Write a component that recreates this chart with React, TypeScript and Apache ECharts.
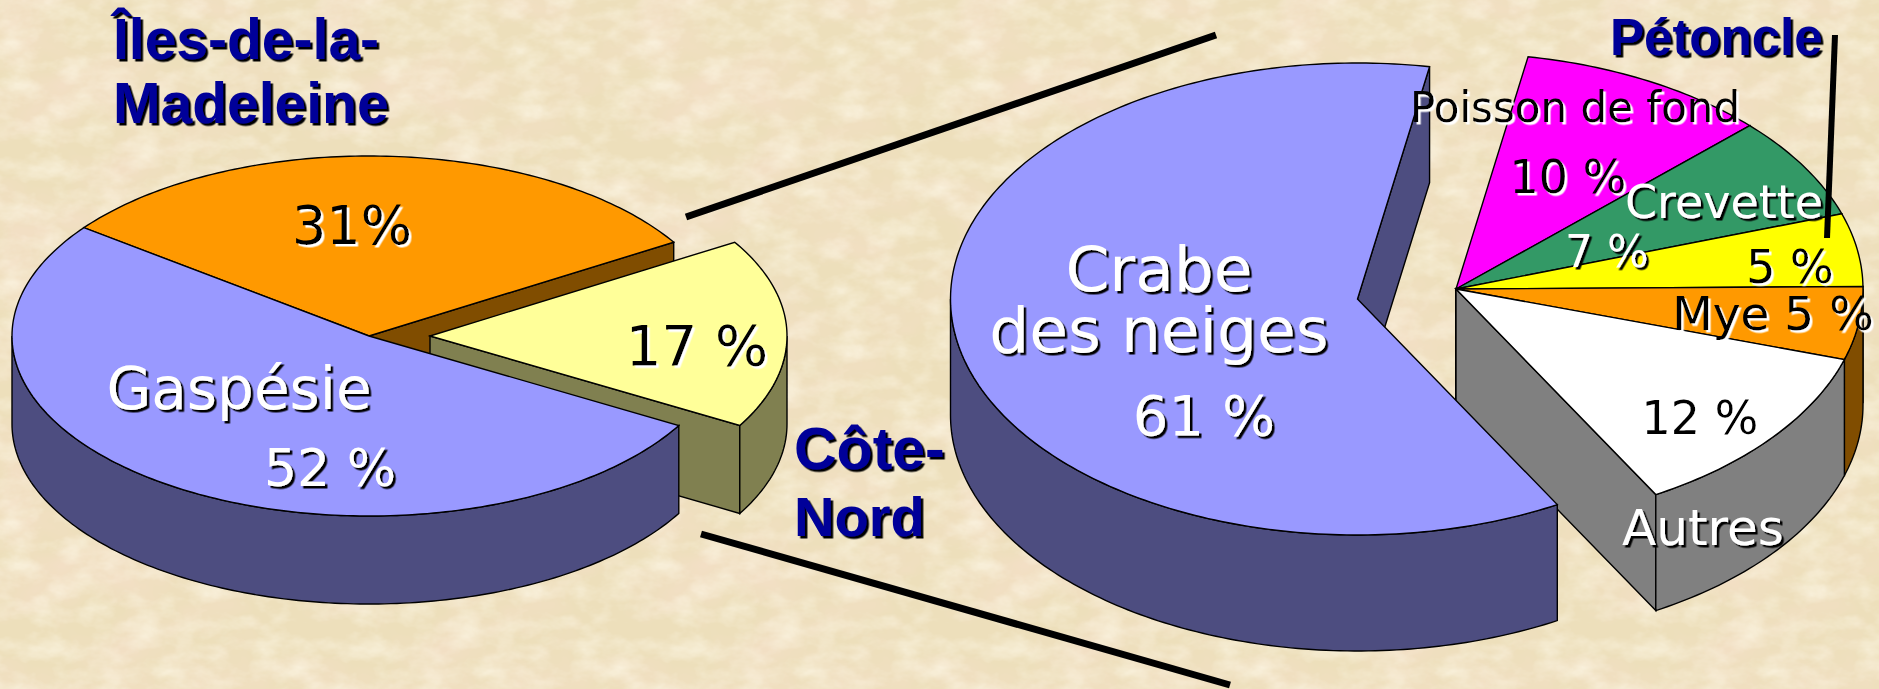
import React, { useEffect, useRef } from "react";
import * as echarts from "echarts";

// ---------- data ----------
const leftNames = ["Îles-de-la-Madeleine", "Côte-Nord", "Gaspésie"];
const leftValues = [31, 17, 52];
const leftTop = ["#FF9900", "#FFFF99", "#9999FF"];
const leftWall = ["#804D00", "#808050", "#4D4D80"];

const rightNames = ["Crabe des neiges", "Poisson de fond", "Crevette", "Pétoncle", "Mye", "Autres"];
const rightValues = [61, 10, 7, 5, 5, 12];
const rightTop = ["#9999FF", "#FF00FF", "#339966", "#FFFF00", "#FF9900", "#FFFFFF"];
const rightWall = ["#4D4D80", "#800080", "#1A4D33", "#808000", "#804D00", "#808080"];

type Label = { t: string; x: number; y: number; s: number; c: string; sh: string; bold?: boolean; a?: string; lh?: number };
const WHITE = "#FFFFFF", BLACK = "#000000", NAVY = "#000099";
const labels: Label[] = [
  { t: "Îles-de-la-", x: 113, y: 58, s: 57, c: NAVY, sh: BLACK, bold: true, a: "left" },
  { t: "Madeleine", x: 113, y: 122, s: 57, c: NAVY, sh: BLACK, bold: true, a: "left" },
  { t: "Côte-", x: 794, y: 469, s: 59, c: NAVY, sh: BLACK, bold: true, a: "left" },
  { t: "Nord", x: 794, y: 536, s: 56, c: NAVY, sh: BLACK, bold: true, a: "left" },
  { t: "Pétoncle", x: 1610, y: 55, s: 51, c: NAVY, sh: BLACK, bold: true, a: "left" },
  { t: "31%", x: 352, y: 244, s: 54, c: BLACK, sh: WHITE },
  { t: "17 %", x: 697, y: 365, s: 56, c: BLACK, sh: WHITE },
  { t: "Gaspésie", x: 239, y: 409, s: 58, c: WHITE, sh: BLACK },
  { t: "52 %", x: 330, y: 486, s: 52, c: WHITE, sh: BLACK },
  { t: "Crabe\ndes neiges", x: 1159, y: 351, s: 63, c: WHITE, sh: BLACK, lh: 61 },
  { t: "61 %", x: 1204, y: 435, s: 56, c: WHITE, sh: BLACK },
  { t: "Poisson de fond", x: 1575, y: 122, s: 42, c: BLACK, sh: WHITE },
  { t: "10 %", x: 1568, y: 193, s: 46, c: BLACK, sh: WHITE },
  { t: "Crevette", x: 1724, y: 218, s: 46, c: WHITE, sh: BLACK },
  { t: "7 %", x: 1607, y: 266, s: 44, c: WHITE, sh: BLACK },
  { t: "5 %", x: 1790, y: 283, s: 46, c: BLACK, sh: WHITE },
  { t: "Mye 5 %", x: 1773, y: 329, s: 47, c: BLACK, sh: WHITE },
  { t: "12 %", x: 1700, y: 434, s: 46, c: BLACK, sh: WHITE },
  { t: "Autres", x: 1703, y: 545, s: 50, c: WHITE, sh: BLACK },
];
const guideLines = [
  { x1: 686, y1: 217, x2: 1216, y2: 35, w: 7 },
  { x1: 701, y1: 534, x2: 1230, y2: 685, w: 7 },
  { x1: 1835, y1: 35, x2: 1827, y2: 238, w: 6 },
];

// ---------- layout ----------
const LEFT = { cx: 369, cy: 336, rx: 357, ry: 180, depth: 88, start: 217, explode: [[0, 0], [61, 0], [0, 0]] };
const RIGHT = {
  cx: 1456, cy: 289, rx: 407, ry: 236, depth: 116, start: 60.6,
  explode: [[-98.5, 10], [0, 0], [0, 0], [0, 0], [0, 0], [0, 0]],
};
const rightDrawOrder = [1, 2, 3, 4, 5, 0];
const leftDrawOrder = [0, 1, 2];

const TEXTURE =
  "data:image/svg+xml," +
  encodeURIComponent(
    `<svg xmlns='http://www.w3.org/2000/svg' width='321' height='240'>
<filter id='a' x='0' y='0' width='100%' height='100%'><feTurbulence type='fractalNoise' baseFrequency='0.012 0.016' numOctaves='4' seed='11' stitchTiles='stitch'/>
<feColorMatrix values='0 0 0 0 0.91  0 0 0 0 0.74  0 0 0 0 0.58  1.6 0 0 0 -0.62'/></filter>
<filter id='b' x='0' y='0' width='100%' height='100%'><feTurbulence type='fractalNoise' baseFrequency='0.03 0.05' numOctaves='4' seed='4' stitchTiles='stitch'/>
<feColorMatrix values='0 0 0 0 1  0 0 0 0 0.96  0 0 0 0 0.84  0 1.1 0 0 -0.42'/></filter>
<rect width='321' height='240' fill='#EDDFBB'/><rect width='321' height='240' filter='url(#a)'/><rect width='321' height='240' filter='url(#b)'/></svg>`
  );

const rad = (d: number) => (d * Math.PI) / 180;

function slicePieces(p: any, a0: number, a1: number, off: number[], top: string, wall: string) {
  const cx = p.cx + off[0];
  const cy = p.cy + off[1];
  const pt = (a: number, dy = 0) => [cx + p.rx * Math.cos(rad(a)), cy + p.ry * Math.sin(rad(a)) + dy];
  const arc = (from: number, to: number, dy = 0) => {
    const out: number[][] = [];
    const n = Math.max(2, Math.ceil(Math.abs(to - from)));
    for (let i = 0; i <= n; i++) out.push(pt(from + ((to - from) * i) / n, dy));
    return out;
  };
  const lineStyle = { stroke: "#000000", lineWidth: 1.4, lineJoin: "miter" };
  const poly = (points: number[][], fill: string) => ({
    type: "polygon",
    shape: { points },
    style: { fill, ...lineStyle },
  });
  const children: any[] = [];
  const cut = (a: number) =>
    poly([[cx, cy], pt(a), pt(a, p.depth), [cx, cy + p.depth]], wall);
  if (Math.cos(rad(a0)) < 0) children.push(cut(a0));
  if (Math.cos(rad(a1)) > 0) children.push(cut(a1));
  // outer wall: only the parts of the rim that face the viewer
  for (const [lo, hi] of [[0, 180], [360, 540]]) {
    const f = Math.max(a0, lo);
    const t = Math.min(a1, hi);
    if (t > f) children.push(poly([...arc(f, t), ...arc(t, f, p.depth)], wall));
  }
  children.push(poly([[cx, cy], ...arc(a0, a1)], top));
  return { type: "group", children };
}

function pieSeries(p: any, names: string[], values: number[], tops: string[], walls: string[], order: number[]) {
  const total = values.reduce((s, v) => s + v, 0);
  let acc = p.start;
  const spans = values.map((v) => {
    const s = acc;
    acc += (v / total) * 360;
    return [s, acc];
  });
  return {
    type: "custom",
    coordinateSystem: "none",
    silent: true,
    data: order.map((i) => ({ name: names[i], value: [values[i], i] })),
    renderItem: (_: any, api: any) => {
      const i = api.value(1);
      return slicePieces(p, spans[i][0], spans[i][1], p.explode[i], tops[i], walls[i]);
    },
  };
}

export default function App() {
  const ref = useRef<HTMLDivElement>(null);
  useEffect(() => {
    document.body.style.margin = "0";
    const chart = echarts.init(ref.current!, undefined, { renderer: "svg" });
    const graphic: any[] = [
      ...guideLines.map((l) => ({
        type: "line",
        z: 20,
        silent: true,
        shape: { x1: l.x1, y1: l.y1, x2: l.x2, y2: l.y2 },
        style: { stroke: "#000000", lineWidth: l.w },
      })),
      ...labels.map((l) => ({
        type: "text",
        z: 30,
        silent: true,
        style: {
          text: l.t,
          x: l.x,
          y: l.y + l.s * 0.16,
          fill: l.c,
          textAlign: l.a || "center",
          textVerticalAlign: "bottom",
          lineHeight: l.lh,
          font: l.bold
            ? `bold ${l.s}px "Liberation Sans", Arial, sans-serif`
            : `${l.s}px "DejaVu Sans", Verdana, sans-serif`,
          textShadowColor: l.sh,
          textShadowOffsetX: 2.5,
          textShadowOffsetY: 2.5,
          textShadowBlur: 0.2,
        },
      })),
    ];
    chart.setOption({
      animation: false,
      backgroundColor: "transparent",
      series: [
        pieSeries(LEFT, leftNames, leftValues, leftTop, leftWall, leftDrawOrder),
        pieSeries(RIGHT, rightNames, rightValues, rightTop, rightWall, rightDrawOrder),
      ],
      graphic,
    });
    return () => chart.dispose();
  }, []);
  return (
    <div
      style={{
        position: "absolute",
        left: 0,
        top: 0,
        width: 1879,
        height: 689,
        overflow: "hidden",
        backgroundColor: "#EDDFBB",
        backgroundImage: `url("${TEXTURE}")`,
      }}
    >
      <div ref={ref} style={{ width: 1879, height: 689 }} />
    </div>
  );
}
